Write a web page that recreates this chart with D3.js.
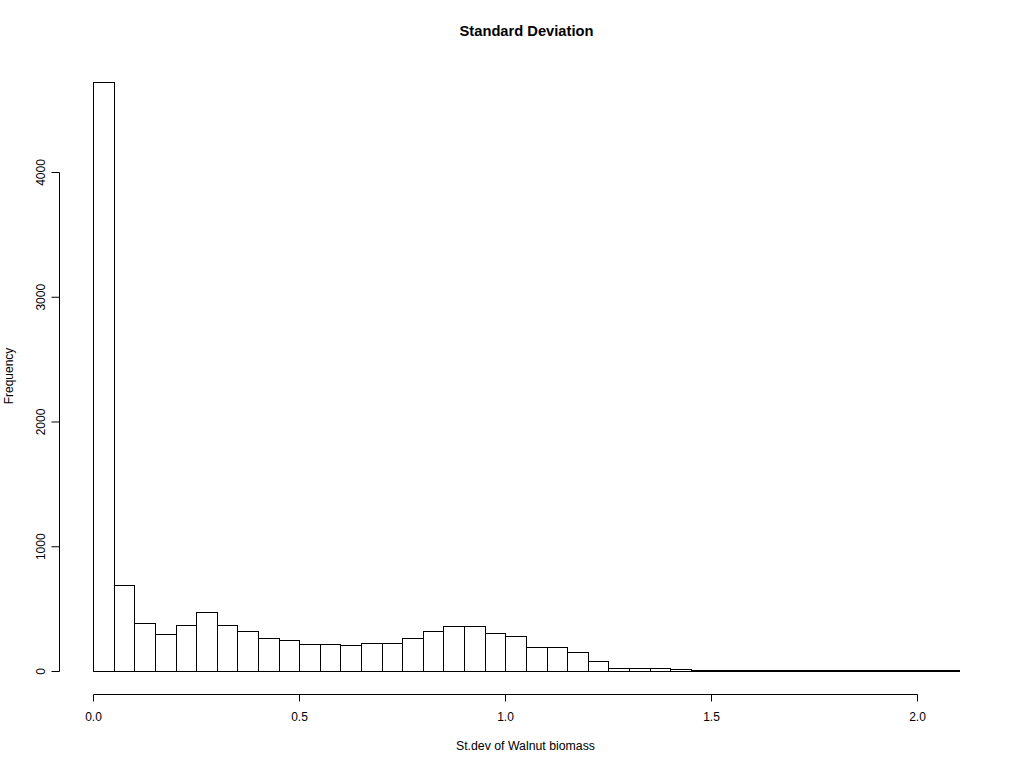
<!DOCTYPE html>
<html>
<head>
<meta charset="utf-8">
<script src="https://cdn.jsdelivr.net/npm/d3@7"></script>
<style>
  html, body { margin: 0; padding: 0; background: #fff; }
  svg { display: block; }
  text { font-family: "Liberation Sans", Arial, sans-serif; fill: #000; }
</style>
</head>
<body>
<div id="chart"></div>
<script>
var binWidth = 0.05;
var counts = [
  4723, 692, 385, 297, 369, 473, 369, 321, 265, 249, 217, 217, 208, 225,
  225, 265, 321, 361, 361, 305, 283, 192, 192, 152, 80, 24, 24, 24, 16,
  9, 8, 7, 7, 6, 6, 6, 5, 5, 5, 5, 5, 5
];
var xTicks = [0, 0.5, 1, 1.5, 2];
var yTicks = [0, 1000, 2000, 3000, 4000];

var width = 1024, height = 768;

var svg = d3
  .select("#chart")
  .append("svg")
  .attr("width", width)
  .attr("height", height);

// axes only span the tick range, bars run past it
var x = d3.scaleLinear().domain([0, 2]).range([93.5, 917.5]);
var y = d3.scaleLinear().domain([0, 4000]).range([671.5, 172.5]);
// bar edges round a little differently from the ticks
var xBar = d3.scaleLinear().domain([0, 2]).range([93.7, 917.9]);

// snap to the pixel grid so the 1px outlines stay sharp
var snap = (v) => Math.round(v - 0.5) + 0.5;

svg
  .append("g")
  .selectAll("rect")
  .data(counts)
  .enter()
  .append("rect")
  .attr("x", (d, i) => snap(xBar(i * binWidth)))
  .attr("y", (d) => snap(y(d)))
  .attr("width", (d, i) => snap(xBar((i + 1) * binWidth)) - snap(xBar(i * binWidth)))
  .attr("height", (d) => snap(y(0)) - snap(y(d)))
  .attr("fill", "#fff")
  .attr("stroke", "#000")
  .attr("stroke-width", 1);

var xAxis = svg
  .append("g")
  .attr("transform", "translate(0,694.5)")
  .call(
    d3.axisBottom(x)
      .tickValues(xTicks)
      .tickFormat(d3.format(".1f"))
      .tickSizeOuter(0)
      .tickSizeInner(7)
      .tickPadding(11)
      .offset(0)
  );

var yAxis = svg
  .append("g")
  .attr("transform", "translate(59.5,0)")
  .call(
    d3.axisLeft(y)
      .tickValues(yTicks)
      .tickFormat(d3.format("d"))
      .tickSizeOuter(0)
      .tickSizeInner(8)
      .offset(0)
  );

xAxis.selectAll("text").style("font-size", "12px").style("font-family", '"Liberation Sans", Arial, sans-serif');
yAxis
  .selectAll("text")
  .style("font-size", "12px")
  .style("font-family", '"Liberation Sans", Arial, sans-serif')
  .attr("x", null)
  .attr("dy", null)
  .attr("text-anchor", "middle")
  .attr("transform", "translate(-15,0) rotate(-90)");

svg.selectAll(".domain, .tick line").attr("stroke", "#000").attr("stroke-width", 1);

svg
  .append("text")
  .attr("x", 526.5)
  .attr("y", 36)
  .attr("text-anchor", "middle")
  .style("font-size", "14.7px")
  .style("font-weight", "bold")
  .text("Standard Deviation");

svg
  .append("text")
  .attr("x", 525.5)
  .attr("y", 750)
  .attr("text-anchor", "middle")
  .style("font-size", "12.3px")
  .text("St.dev of Walnut biomass");

svg
  .append("text")
  .attr("transform", "translate(13,376) rotate(-90)")
  .attr("text-anchor", "middle")
  .style("font-size", "12px")
  .text("Frequency");
</script>
</body>
</html>
